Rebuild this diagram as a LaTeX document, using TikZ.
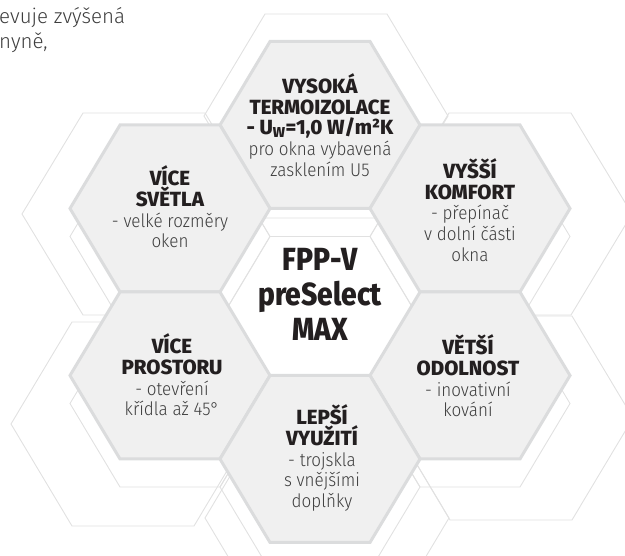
\documentclass[tikz,border=0pt]{standalone}
\usepackage{fontspec}
\setmainfont{Fira Sans}
\newfontfamily\heavyf{Fira Sans ExtraBold}
\newfontfamily\ctrf{Fira Sans ExtraBold}[FakeStretch=0.88]
\newfontfamily\lightf{Fira Sans Light}[FakeStretch=0.92]
\newfontfamily\introf{Fira Sans Light}
\definecolor{outlc}{HTML}{E1E1E1}
\definecolor{cellfill}{HTML}{F0F0F0}
\definecolor{cellborder}{HTML}{DBDCDD}
\definecolor{titlec}{HTML}{231F20}
\definecolor{bodyc}{HTML}{3D3D3D}
\newcommand\ttl{\heavyf\fontsize{20.5}{20.7}\selectfont\color{titlec}}
\newcommand\bdy{\lightf\fontsize{18.5}{20.7}\selectfont\color{bodyc}}
\newcommand\hexat[5]{\path[#1] ({#2-#4},#3) -- ({#2-#4/2},{#3-#5}) -- ({#2+#4/2},{#3-#5}) -- ({#2+#4},#3) -- ({#2+#4/2},{#3+#5}) -- ({#2-#4/2},{#3+#5}) -- cycle;}
\begin{document}
\begin{tikzpicture}[x=1pt,y=-1pt,
  outl/.style={draw=outlc, line width=0.9pt},
  cell/.style={fill=cellfill, draw=cellborder, line width=3pt, line join=miter},
  txt/.style={align=center, inner sep=0pt, font=\fontsize{18.5}{20.7}\selectfont},
  ctrtxt/.style={align=center, inner sep=0pt, font=\ctrf\fontsize{32}{35}\selectfont, text=titlec},
  introtxt/.style={align=left, inner sep=0pt, font=\introf\fontsize{20.5}{24.5}\selectfont, text=bodyc}]
\useasboundingbox (0,0) rectangle (625,556);
% large background outlines
\hexat{outl}{326}{116}{122}{102}
\hexat{outl}{144}{214}{122}{101}
\hexat{outl}{510}{214}{122}{101}
\hexat{outl}{133}{424}{122}{102}
\hexat{outl}{511}{418}{122}{102}
\hexat{outl}{327}{518}{122}{102}
% shifted copy of the honeycomb
\hexat{outl}{320}{320}{100}{83.5}
\hexat{outl}{320}{153}{100}{83.5}
\hexat{outl}{320}{487}{100}{83.5}
\hexat{outl}{170}{236.5}{100}{83.5}
\hexat{outl}{170}{403.5}{100}{83.5}
\hexat{outl}{470}{236.5}{100}{83.5}
\hexat{outl}{470}{403.5}{100}{83.5}
% grey cells
\hexat{cell}{320}{125}{100}{83.5}
\hexat{cell}{170}{208.5}{100}{83.5}
\hexat{cell}{470}{208.5}{100}{83.5}
\hexat{cell}{170}{375.5}{100}{83.5}
\hexat{cell}{470}{375.5}{100}{83.5}
\hexat{cell}{320}{459}{100}{83.5}
% texts
\node[introtxt, anchor=north west] (intro) at (-1,7.5) {evuje zvýšená\\nyně,};
\node[txt] (top) at (320,125) {\ttl VYSOKÁ\\\ttl TERMOIZOLACE\\\ttl - U\textsubscript{W}=1,0 W/m²K\\\bdy pro okna vybavená\\\bdy zasklením U5};
\node[txt] (ul) at (170,207) {\ttl VÍCE\\\ttl SVĚTLA\\\bdy - velké rozměry\\\bdy oken};
\node[txt] (ur) at (470,210) {\ttl VYŠŠÍ\\\ttl KOMFORT\\\bdy - přepínač\\\bdy v dolní části\\\bdy okna};
\node[txt] (ll) at (172,375) {\ttl VÍCE\\\ttl PROSTORU\\\bdy - otevření\\\bdy křídla až 45°};
\node[txt] (lr) at (468,376) {\ttl VĚTŠÍ\\\ttl ODOLNOST\\\bdy - inovativní\\\bdy kování};
\node[txt] (bot) at (322,458) {\ttl LEPŠÍ\\\ttl VYUŽITÍ\\\bdy - trojskla\\\bdy s vnějšími\\\bdy doplňky};
\node[ctrtxt] (ctr) at (320,294) {FPP-V\\preSelect\\MAX};
\end{tikzpicture}
\end{document}
